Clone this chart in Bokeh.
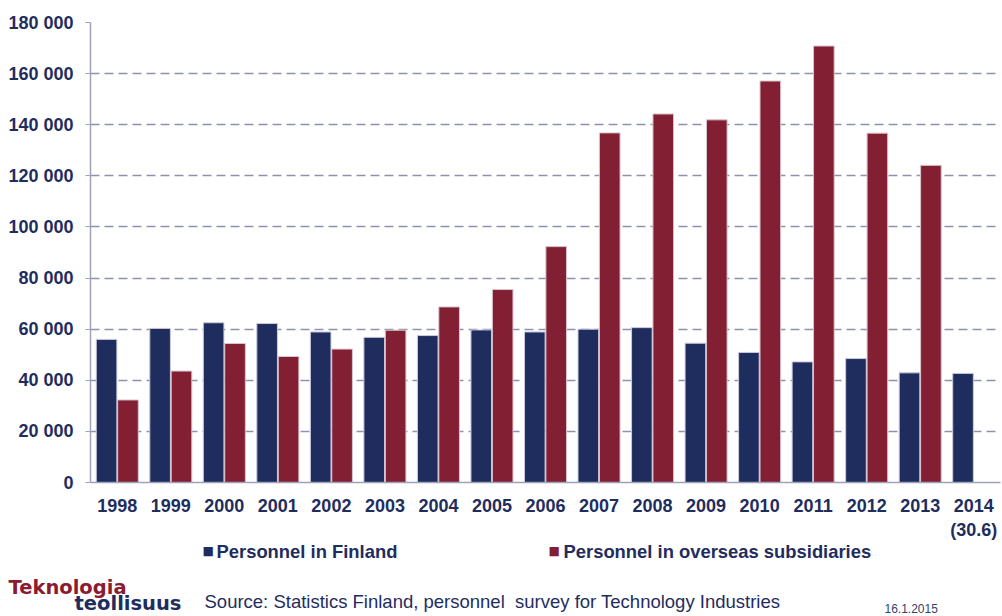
from bokeh.plotting import figure
from bokeh.models import FactorRange, Range1d, ColumnDataSource, FixedTicker, Label
from bokeh.transform import dodge
from bokeh.embed import file_html
from bokeh.resources import INLINE

years = ["1998", "1999", "2000", "2001", "2002", "2003", "2004", "2005", "2006",
         "2007", "2008", "2009", "2010", "2011", "2012", "2013", "2014\n(30.6)"]
finland = [56000, 60300, 62500, 62200, 58900, 56800, 57500, 59700, 58900,
           60000, 60600, 54500, 50900, 47200, 48500, 42900, 42700]
overseas = [32300, 43600, 54400, 49300, 52200, 59600, 68700, 75500, 92300,
            136800, 144200, 141900, 157100, 170800, 136700, 124100, float("nan")]
y_ticks = [0, 20000, 40000, 60000, 80000, 100000, 120000, 140000, 160000, 180000]
y_tick_labels = ["0", "20 000", "40 000", "60 000", "80 000", "100 000",
                 "120 000", "140 000", "160 000", "180 000"]
series_names = ["Personnel in Finland", "Personnel in overseas subsidiaries"]

NAVY = "#1f2d5e"
RED = "#821f32"
GRID = "#8e92aa"
AXIS = "#a0a2b8"
FONT = "Liberation Sans"

src = ColumnDataSource(dict(year=years, finland=finland, overseas=overseas))

p = figure(x_range=FactorRange(*years), y_range=Range1d(0, 180000),
           width=1002, height=542, output_backend="svg", toolbar_location=None,
           min_border_left=90, min_border_right=2, min_border_top=22,
           min_border_bottom=59)
p.outline_line_color = None

p.vbar(x=dodge("year", -0.2, range=p.x_range), top="finland", width=0.385,
       source=src, fill_color=NAVY, line_color="#c9cadb", line_width=1)
p.vbar(x=dodge("year", 0.2, range=p.x_range), top="overseas", width=0.385,
       source=src, fill_color=RED, line_color="#d8c4cc", line_width=1)

# axes
p.yaxis.ticker = FixedTicker(ticks=y_ticks)
p.yaxis.major_label_overrides = {t: l for t, l in zip(y_ticks, y_tick_labels)}
p.yaxis.minor_tick_line_color = None
p.yaxis.major_tick_out = 5
p.yaxis.major_tick_in = 0
p.yaxis.major_tick_line_color = AXIS
p.yaxis.axis_line_color = AXIS
p.yaxis.axis_line_width = 1.5
p.yaxis.major_label_standoff = 12
p.yaxis.major_label_text_font = FONT
p.yaxis.major_label_text_font_style = "bold"
p.yaxis.major_label_text_font_size = "18px"
p.yaxis.major_label_text_color = NAVY

p.xaxis.major_tick_line_color = None
p.xaxis.axis_line_color = AXIS
p.xaxis.axis_line_width = 1.5
p.xaxis.major_label_standoff = 7
p.xaxis.major_label_text_font = FONT
p.xaxis.major_label_text_font_style = "bold"
p.xaxis.major_label_text_font_size = "18px"
p.xaxis.major_label_text_color = NAVY

p.xgrid.grid_line_color = None
p.ygrid.grid_line_color = GRID
p.ygrid.grid_line_dash = "9 5"
p.ygrid.grid_line_width = 1.5

# footer strip: legend + source notes (its coordinates are page pixels)
f = figure(width=1002, height=74, x_range=Range1d(0, 1002), y_range=Range1d(616, 542),
           output_backend="svg", toolbar_location=None,
           x_axis_location=None, y_axis_location=None, min_border=0)
f.outline_line_color = None
f.xgrid.grid_line_color = None
f.ygrid.grid_line_color = None

def note(x, y, text, size, color=NAVY, font=FONT, style="normal"):
    f.add_layout(Label(x=x, y=y, text=text, text_font=font, text_font_style=style,
                       text_font_size=size, text_color=color, text_baseline="middle"))

# legend
note(202, 550, "\u25a0", "12px", color=NAVY, font="DejaVu Sans")
note(216, 551, series_names[0], "18.4px", style="bold")
note(548, 550, "\u25a0", "12px", color=RED, font="DejaVu Sans")
note(563, 551, series_names[1], "18.4px", style="bold")

# logo, source, date
note(8, 587, "Teknologia", "19.5px", color="#8b1b2e", font="DejaVu Sans", style="bold")
note(74, 603, "teollisuus", "19.5px", color=NAVY, font="DejaVu Sans", style="bold")
note(204, 601, "Source: Statistics Finland, personnel\u00a0 survey for Technology Industries",
     "18.5px")
note(884, 608, "16.1.2015", "12px", color="#33436f")

open("out.html", "w").write(file_html([p, f], INLINE))
